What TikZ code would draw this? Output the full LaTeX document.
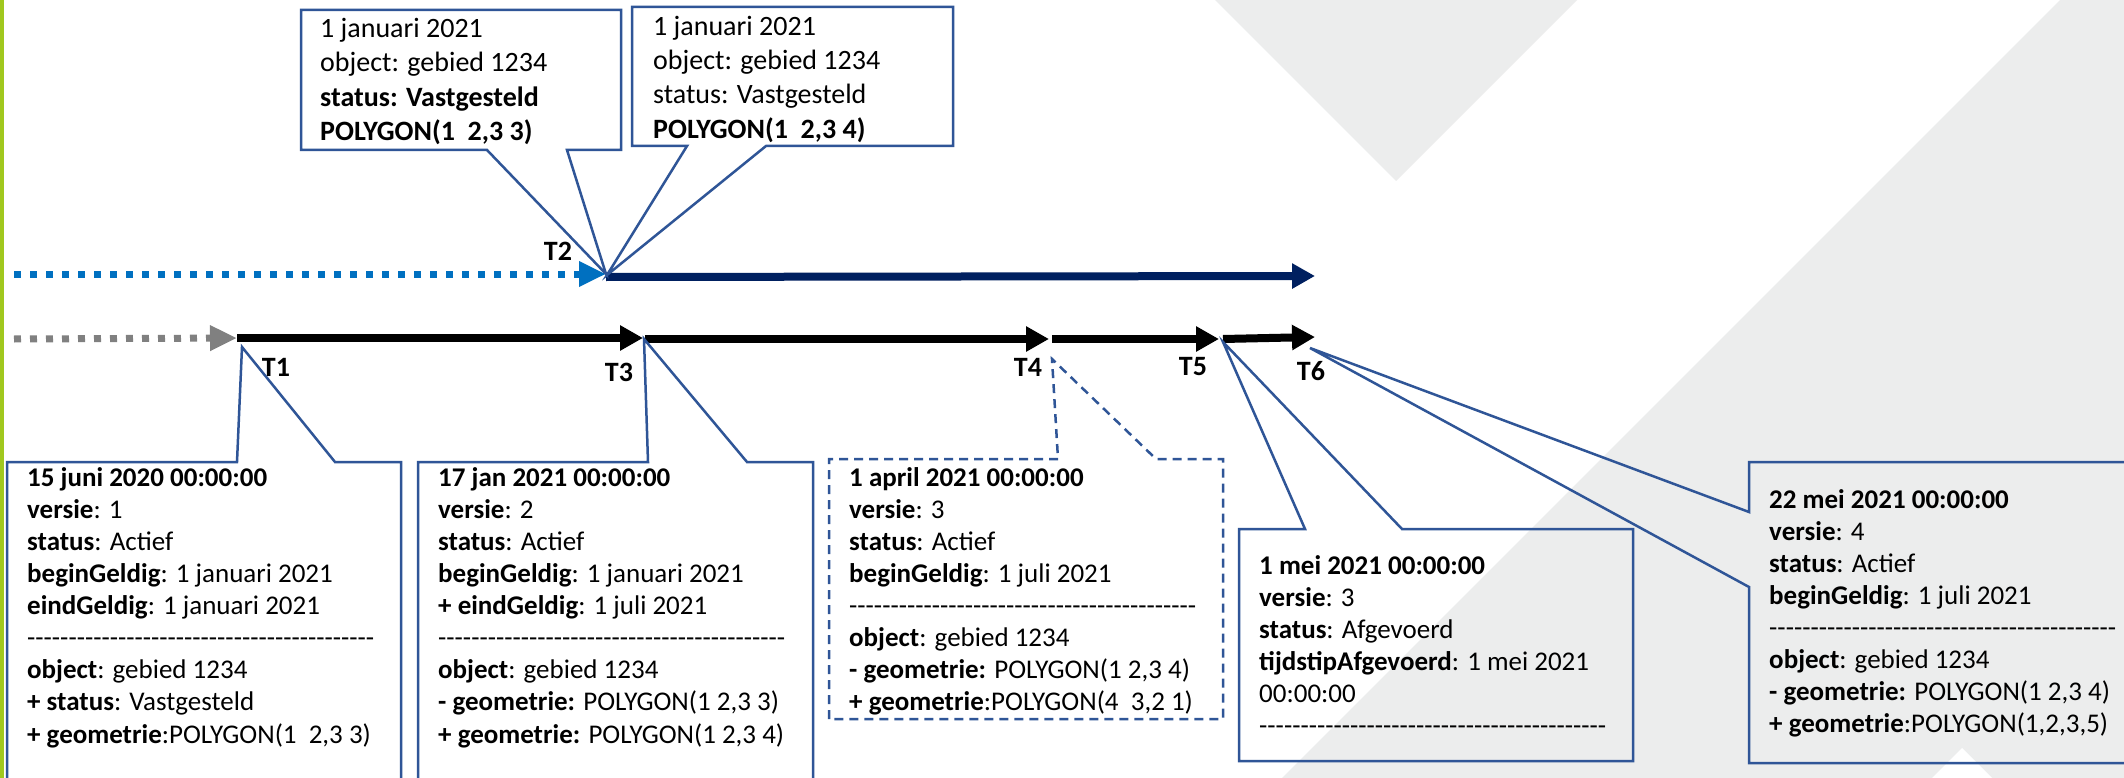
\documentclass[tikz,border=0pt]{standalone}
\usepackage{fontspec}
\setmainfont{Carlito}
\usetikzlibrary{arrows.meta}
\definecolor{calblue}{RGB}{47,85,151}
\definecolor{dotblue}{RGB}{0,112,192}
\definecolor{navyline}{RGB}{0,32,96}
\definecolor{dotgrey}{RGB}{128,128,128}
\definecolor{bggrey}{RGB}{236,237,237}
\definecolor{bargreen}{RGB}{160,200,30}
\newcommand{\sepline}{-{}-{}-{}-{}-{}-{}-{}-{}-{}-{}-{}-{}-{}-{}-{}-{}-{}-{}-{}-{}-{}-{}-{}-{}-{}-{}-{}-{}-{}-{}-{}-{}-{}-{}-{}-{}-{}-{}-{}-{}-{}-{}}
\begin{document}
\begin{tikzpicture}[x=1pt,y=-1pt,
  callout/.style={draw=calblue, line width=2.5pt, line join=miter},
  dashcallout/.style={callout, dash pattern=on 9pt off 6pt},
  boxtext/.style={anchor=north west, inner sep=0pt, align=left, font=\fontsize{27}{32.1}\selectfont},
  toptext/.style={anchor=north west, inner sep=0pt, align=left, font=\fontsize{28}{34.4}\selectfont},
  tlabel/.style={font=\fontsize{28}{34}\selectfont\bfseries, inner sep=0pt},
  tline/.style={line width=8pt, -{Triangle[length=23pt,width=24pt]}},
  dotline/.style={line width=7pt, dash pattern=on 7pt off 9pt, -{Triangle[length=27pt,width=24pt]}}
]
\useasboundingbox (0,0) rectangle (2124,778);
\clip (0,0) rectangle (2124,778);
% background
\fill[white] (0,0) rectangle (2124,778);
\fill[bggrey] (1215,0) -- (1577,0) -- (1396,181) -- cycle;
\fill[bggrey] (2060,0) -- (2124,0) -- (2124,778) -- (1282,778) -- cycle;
\fill[white] (1932,778) -- (1962,748) -- (1992,778) -- cycle;
\fill[bargreen] (0,0) rectangle (3.5,778);

% timeline points
\coordinate (b0) at (14,274);
\coordinate (T2p) at (606,274);
\coordinate (n0) at (606,277);
\coordinate (nEnd) at (1315,276);
\coordinate (g0) at (14,339);
\coordinate (T1p) at (237,338);
\coordinate (T3p) at (643,338);
\coordinate (T3s) at (645,339);
\coordinate (T4p) at (1049,339);
\coordinate (T4s) at (1052,339);
\coordinate (T5p) at (1219,339);
\coordinate (T5s) at (1223,339);
\coordinate (T6p) at (1315,337);

\draw[dotline, dotblue] (b0) -- (T2p);
\draw[tline, navyline] (n0) -- (nEnd);
\draw[dotline, dotgrey] (g0) -- (T1p);
\draw[tline, black] (T1p) -- (T3p);
\draw[tline, black] (T3s) -- (T4p);
\draw[tline, black] (T4s) -- (T5p);
\draw[tline, black] (T5s) -- (T6p);

% callout tips
\coordinate (tipA) at (606,274);
\coordinate (tipB) at (607,275);
\coordinate (tip1) at (242,347);
\coordinate (tip2) at (644,339);
\coordinate (tip3) at (1052,359);
\coordinate (tip5) at (1223,342);
\coordinate (tip6) at (1310,348);

% callout outlines
\draw[callout] (301,10) -- (621,10) -- (621,150) -- (567,150) -- (tipA) -- (487,150) -- (301,150) -- cycle;
\draw[callout] (632,7) -- (953,7) -- (953,146) -- (766,146) -- (tipB) -- (687,146) -- (632,146) -- cycle;
\draw[callout] (7,800) -- (7,462) -- (237,462) -- (tip1) -- (335,462) -- (401,462) -- (401,800);
\draw[callout] (418,800) -- (418,462) -- (648,462) -- (tip2) -- (747,462) -- (813,462) -- (813,800);
\draw[dashcallout] (829,719) -- (829,459) -- (1058,459) -- (tip3) -- (1156,459) -- (1223,459) -- (1223,719) -- cycle;
\draw[callout] (1239,761) -- (1239,529) -- (1305,529) -- (tip5) -- (1402,529) -- (1633,529) -- (1633,761) -- cycle;
\draw[callout] (2130,462) -- (1749,462) -- (1749,512) -- (tip6) -- (1749,587) -- (1749,763) -- (2130,763);

% texts
\node[toptext] (boxA) at (320,14.3) {\rule{0pt}{23pt}1 januari 2021\\
object: gebied 1234\\
\textbf{status: Vastgesteld}\\
\textbf{POLYGON(1\ \ 2,3 3)}};
\node[toptext] (boxB) at (653,12) {\rule{0pt}{23pt}1 januari 2021\\
object: gebied 1234\\
status: Vastgesteld\\
\textbf{POLYGON(1\ \ 2,3 4)}};

\node[boxtext] (box1) at (27,464) {\rule{0pt}{22pt}\textbf{15 juni 2020 00:00:00}\\
\textbf{versie}: 1\\
\textbf{status}: Actief\\
\textbf{beginGeldig}: 1 januari 2021\\
\textbf{eindGeldig}: 1 januari 2021\\
\sepline\\
\textbf{object}: gebied 1234\\
\textbf{+ status}: Vastgesteld\\
\textbf{+ geometrie}:POLYGON(1\ \ 2,3 3)};

\node[boxtext] (box2) at (438,464) {\rule{0pt}{22pt}\textbf{17 jan 2021 00:00:00}\\
\textbf{versie}: 2\\
\textbf{status}: Actief\\
\textbf{beginGeldig}: 1 januari 2021\\
\textbf{+ eindGeldig}: 1 juli 2021\\
\sepline\\
\textbf{object}: gebied 1234\\
\textbf{- geometrie:} POLYGON(1 2,3 3)\\
\textbf{+ geometrie:} POLYGON(1 2,3 4)};

\node[boxtext] (box3) at (849,464) {\rule{0pt}{22pt}\textbf{1 april 2021 00:00:00}\\
\textbf{versie}: 3\\
\textbf{status}: Actief\\
\textbf{beginGeldig}: 1 juli 2021\\
\sepline\\
\textbf{object}: gebied 1234\\
\textbf{- geometrie:} POLYGON(1 2,3 4)\\
\textbf{+ geometrie}:POLYGON(4\ \ 3,2 1)};

\node[boxtext] (box5) at (1259,552) {\rule{0pt}{22pt}\textbf{1 mei 2021 00:00:00}\\
\textbf{versie}: 3\\
\textbf{status}: Afgevoerd\\
\textbf{tijdstipAfgevoerd}: 1 mei 2021\\
00:00:00\\
\sepline};

\node[boxtext] (box6) at (1769,486) {\rule{0pt}{22pt}\textbf{22 mei 2021 00:00:00}\\
\textbf{versie}: 4\\
\textbf{status}: Actief\\
\textbf{beginGeldig}: 1 juli 2021\\
\sepline\\
\textbf{object}: gebied 1234\\
\textbf{- geometrie:} POLYGON(1 2,3 4)\\
\textbf{+ geometrie}:POLYGON(1,2,3,5)};

% time labels
\node[tlabel] (T1) at (276,367) {T1};
\node[tlabel] (T2) at (558,251) {T2};
\node[tlabel] (T3) at (619,372) {T3};
\node[tlabel] (T4) at (1028,367) {T4};
\node[tlabel] (T5) at (1193,367) {T5};
\node[tlabel] (T6) at (1311,371) {T6};
\end{tikzpicture}
\end{document}
